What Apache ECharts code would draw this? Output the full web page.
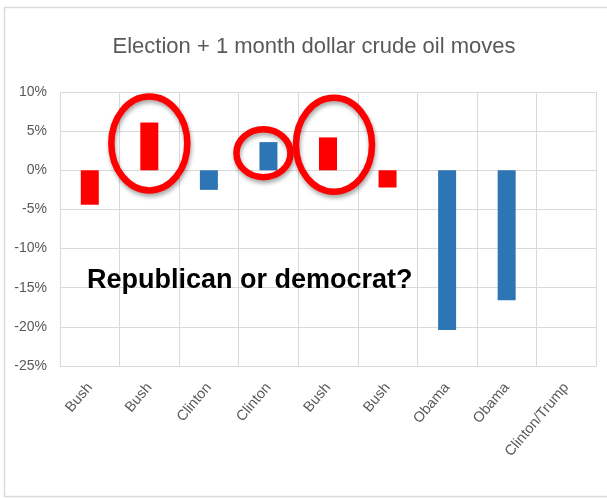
<!DOCTYPE html>
<html>
<head>
<meta charset="utf-8">
<script src="https://cdn.jsdelivr.net/npm/echarts@6/dist/echarts.min.js"></script>
<style>
  html, body { margin: 0; padding: 0; background: #fff; }
  #chart { width: 607px; height: 498px; }
</style>
</head>
<body>
<div id="chart"></div>
<script>
// 选举后一个月原油价格变化
const categories = ['Bush', 'Bush', 'Clinton', 'Clinton', 'Bush', 'Bush', 'Obama', 'Obama', 'Clinton/Trump'];
const parties = ['R', 'R', 'D', 'D', 'R', 'R', 'D', 'D', 'D'];
const moves = [-4.4, 6.1, -2.5, 3.6, 4.2, -2.2, -20.4, -16.6, null];
const yTicks = [-25, -20, -15, -10, -5, 0, 5, 10];
const circled = [1, 3, 4];
const titleText = 'Election + 1 month dollar crude oil moves';
const noteText = 'Republican or democrat?';

const partyColor = { R: '#FF0000', D: '#2E75B6' };
const gridColor = '#D9D9D9';
const textColor = '#595959';

let myChart = echarts.init(document.getElementById('chart'));

let option = {
  animation: false,
  title: {
    text: titleText,
    left: 309,
    top: 31,
    textAlign: 'center',
    textStyle: {
      fontFamily: 'Liberation Sans',
      fontSize: 22,
      fontWeight: 'normal',
      color: textColor
    }
  },
  grid: {
    left: 60,
    right: 11,
    top: 92,
    bottom: 132
  },
  xAxis: {
    type: 'category',
    data: categories,
    axisLine: {
      show: true,
      onZero: false,
      lineStyle: { color: gridColor }
    },
    axisTick: { show: false },
    axisLabel: {
      interval: 0,
      rotate: 50,
      margin: 19,
      fontFamily: 'Liberation Sans',
      fontSize: 14.5,
      color: textColor
    },
    splitLine: {
      show: true,
      interval: 0,
      lineStyle: { color: gridColor }
    }
  },
  yAxis: {
    type: 'value',
    min: yTicks[0],
    max: yTicks[yTicks.length - 1],
    interval: 5,
    axisLine: { show: false },
    axisTick: { show: false },
    axisLabel: {
      margin: 13,
      fontFamily: 'Liberation Sans',
      fontSize: 14,
      color: textColor,
      formatter: '{value}%'
    },
    splitLine: {
      lineStyle: { color: gridColor }
    }
  },
  series: [{
    type: 'bar',
    barWidth: 18,
    data: moves.map((v, i) => ({
      value: v,
      itemStyle: { color: partyColor[parties[i]] }
    }))
  }]
};

myChart.setOption(option);

// 标注：红圈 + 文字
function drawNotes() {
  let rings = circled.map((idx) => {
    let half = moves[idx] / 2;
    let c = myChart.convertToPixel({ seriesIndex: 0 }, [idx, half]);
    let small = Math.abs(moves[idx]) < 4;
    let dx = idx === 3 ? -5 : (idx === 4 ? 6 : 0);
    let dy = small ? -3 : (idx === 4 ? -9 : -3);
    return {
      type: 'ellipse',
      z: 100,
      shape: {
        cx: c[0] + dx,
        cy: c[1] + dy,
        rx: small ? 27 : 38,
        ry: small ? 24 : 47
      },
      style: {
        fill: 'none',
        stroke: '#FF0000',
        lineWidth: 6.5,
        shadowBlur: 4,
        shadowOffsetX: 1,
        shadowOffsetY: 3,
        shadowColor: 'rgba(0,0,0,0.35)'
      }
    };
  });

  myChart.setOption({
    graphic: [
      {
        type: 'rect',
        z: -10,
        silent: true,
        shape: { x: 4.5, y: 7.5, width: 610, height: 489 },
        style: { fill: 'none', stroke: gridColor, lineWidth: 1.5 }
      },
      {
        type: 'text',
        z: 100,
        x: 87,
        y: 281,
        style: {
          text: noteText,
          fontFamily: 'Liberation Sans',
          fontSize: 27,
          fontWeight: 'bold',
          fill: '#000',
          verticalAlign: 'middle'
        }
      }
    ].concat(rings)
  });
}

drawNotes();

window.addEventListener('resize', () => {
  myChart.resize();
  drawNotes();
});
</script>
</body>
</html>
